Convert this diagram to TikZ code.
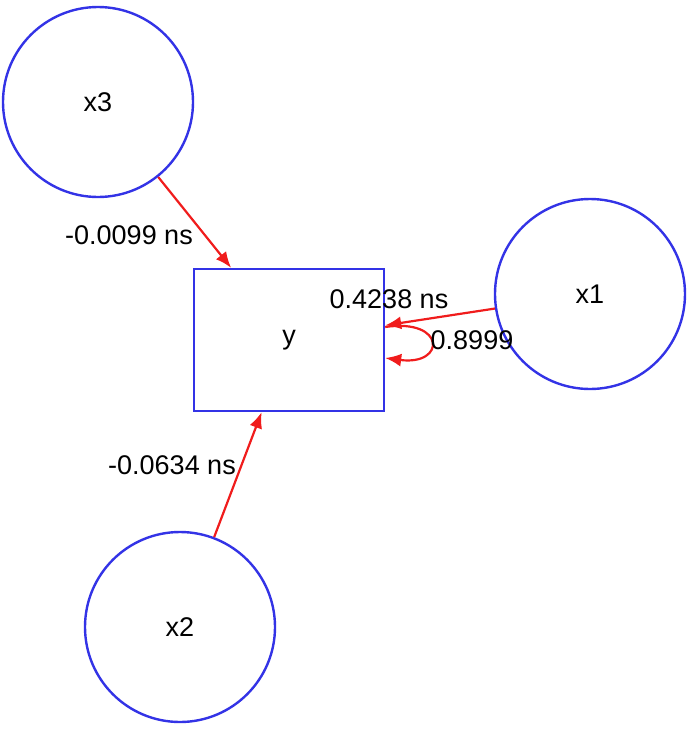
\documentclass[tikz,border=0pt]{standalone}
\usepackage{fontspec}
\setmainfont{Liberation Sans}
\usepackage{xcolor}
\definecolor{azulSEM}{HTML}{3333E6}
\definecolor{rojoSEM}{HTML}{F01C1C}
\usetikzlibrary{arrows.meta,positioning,calc}

\begin{document}
\begin{tikzpicture}[x=0.5pt,y=-0.5pt,font=\fontsize{13.5}{16}\selectfont,>=Latex,
    latente/.style={circle,draw=azulSEM,line width=1.2pt,minimum size=95pt,inner sep=0pt},
    observada/.style={rectangle,draw=azulSEM,line width=1.2pt,minimum width=95pt,minimum height=71pt,inner sep=0pt},
    camino/.style={->,draw=rojoSEM,line width=1.1pt,
        >={Latex[length=8pt,width=6.5pt]}}]

\useasboundingbox (0,0) rectangle (695,729);

% Variables
\node[latente] (x3) at (98,102) {x3};
\node[latente] (x1) at (590,294) {x1};
\node[latente] (x2) at (180,627) {x2};
\node[observada] (y) at (289,340) {y};

% Caminos
\draw[camino] (x3) -- (y);
\draw[camino] (x2) -- (y);
\draw[camino] (x1) -- (y);

% Varianza residual
\draw[camino] ($(y.east)+(0,-13)$)
    .. controls ($(y.east)+(61,-22)$) and ($(y.east)+(61,26)$) ..
    ($(y.east)+(0,18)$);

% Etiquetas
\node (e31) at (129,235) {-0.0099 ns};
\node (e21) at (172,465) {-0.0634 ns};
\node (e11) at (389,299) {0.4238 ns};
\node (v1) at (472,340) {0.8999};

\end{tikzpicture}
\end{document}
